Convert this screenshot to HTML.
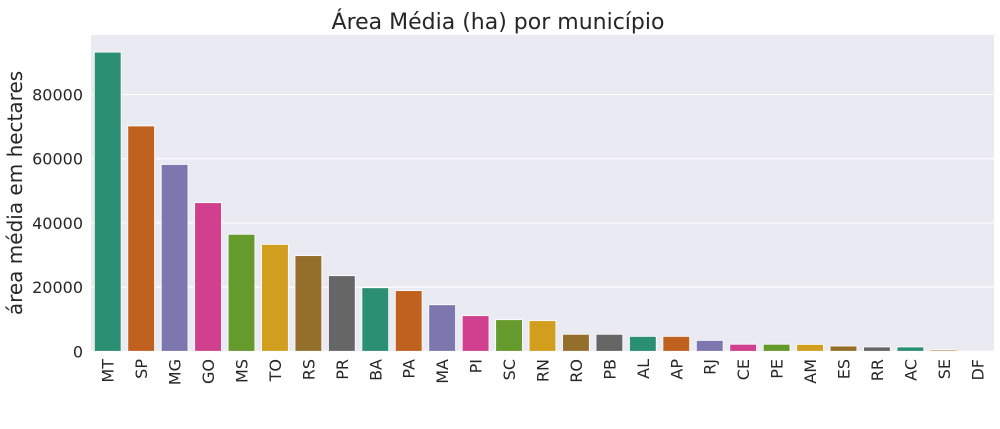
<!DOCTYPE html>
<html><head><meta charset="utf-8"><style>
body{margin:0;background:#fff;font-family:"Liberation Sans","DejaVu Sans",sans-serif}
</style></head><body>
<svg id="chart" width="1000" height="424" xmlns="http://www.w3.org/2000/svg">
<rect width="1000" height="424" fill="#fff"/>
<rect x="91" y="35" width="903" height="316.5" fill="#eaeaf2"/>
<g id="grid"></g><g id="bars"></g><g id="xt"></g><g id="yt"></g>
<text x="498" y="29" text-anchor="middle" font-size="22" fill="#262626" font-family="DejaVu Sans, sans-serif">Área Média (ha) por município</text>
<text transform="translate(22,193) rotate(-90)" text-anchor="middle" font-size="20" fill="#262626" font-family="DejaVu Sans, sans-serif">área média em hectares</text>
</svg>
<script>
const categories=["MT","SP","MG","GO","MS","TO","RS","PR","BA","PA","MA","PI","SC","RN","RO","PB","AL","AP","RJ","CE","PE","AM","ES","RR","AC","SE","DF"];
const values=[93200,70200,58200,46300,36450,33300,29800,23550,19800,18900,14500,11100,9850,9550,5300,5300,4650,4650,3400,2200,2200,2150,1650,1350,1350,400,0];
const yTicks=[0,20000,40000,60000,80000];
const palette=["#2b8f73","#c1611f","#7c77ae","#d0408e","#659a2c","#d19e1e","#946f2c","#666666"];
const NS="http://www.w3.org/2000/svg";
const x0=91,x1=994,y0=351.3,pxPer=64.2/20000;
const slot=(x1-x0)/categories.length;
const yS=v=>y0-v*pxPer;
const xS=i=>x0+slot*i+slot/2;
function mk(t,a,p){const e=document.createElementNS(NS,t);for(const k in a)e.setAttribute(k,a[k]);p.appendChild(e);return e;}
const grid=document.getElementById('grid'),yt=document.getElementById('yt');
yTicks.forEach(v=>{
 const l=mk('line',{x1:x0,x2:x1,y1:yS(v),y2:yS(v),stroke:'#fff','stroke-width':1},grid);
 
 
 const t=mk('text',{x:83,y:yS(v)+6,'text-anchor':'end','font-size':16,fill:'#262626','font-family':'DejaVu Sans, sans-serif'},yt);
 t.textContent=v;
 
 
});
const bars=document.getElementById('bars'),xt=document.getElementById('xt');
categories.forEach((c,i)=>{
 const w=slot*0.8;
 const r=mk('rect',{x:xS(i)-w/2,y:yS(values[i]),width:w,height:values[i]*pxPer,fill:palette[i%8],stroke:'#fff','stroke-width':0.8},bars);
 
 
 const t=mk('text',{transform:`translate(${xS(i)+6},359) rotate(-90)`,'text-anchor':'end','font-size':16,fill:'#262626','font-family':'DejaVu Sans, sans-serif'},xt);
 t.textContent=c;
 
 
});
</script>
</body></html>
